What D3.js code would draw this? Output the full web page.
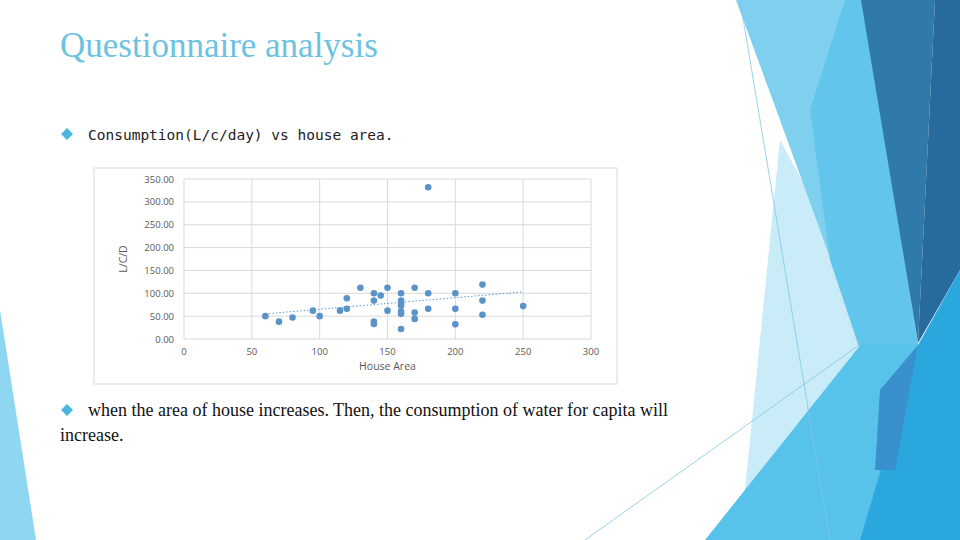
<!DOCTYPE html>
<html><head><meta charset="utf-8">
<script src="https://cdn.jsdelivr.net/npm/d3@7"></script>
<style>body{margin:0;background:#fff}svg{display:block}</style>
</head><body>
<script>
const houseArea = [60,70,80,95,100,115,120,120,130,140,140,140,140,145,150,150,160,160,160,160,160,160,160,170,170,170,180,180,180,200,200,200,220,220,220,250];
const consumption = [50,38,47,62,50,62,66,89,112,100,84,38,33,95,112,62,100,84,78,73,60,55,22,112,58,44,332,100,66,100,66,32,119,84,53,72];
const trendX = [60,250];
const trendY = [55,103];
const xTicks = [0,50,100,150,200,250,300];
const yTicks = [0,50,100,150,200,250,300,350];

const svg = d3.select("body").append("svg").attr("width",960).attr("height",540);

const deco = [
  {c:"#8fd6f1", p:[[0,310],[36,540],[0,540]]},
  {c:"#c9ecf8", p:[[780,140],[840,250],[870,340],[800,540],[740,540]]},
  {c:"#7fd0ef", p:[[736,0],[862,0],[918,345],[860,340],[820,230],[780,120]]},
  {c:"#62c6ec", p:[[845,0],[862,0],[918,345],[880,410],[830,260],[810,110]]},
  {c:"#2f7aaa", p:[[861,0],[935,0],[918,343]]},
  {c:"#276a9e", p:[[935,0],[960,0],[960,270],[918,343]]},
  {c:"#58c3ea", p:[[705,540],[862,343],[918,345],[880,540]]},
  {c:"#2aa8dd", p:[[860,540],[918,345],[960,270],[960,540]]},
  {c:"#3a90cc", p:[[880,390],[918,345],[895,470],[875,470]]}
];
svg.selectAll("polygon.d").data(deco).join("polygon")
  .attr("points",d=>d.p.map(q=>q.join(",")).join(" ")).attr("fill",d=>d.c);
svg.append("line").attr("x1",740).attr("y1",0).attr("x2",830).attr("y2",540).attr("stroke","#7fc8e6").attr("stroke-width",0.8);
svg.append("line").attr("x1",585).attr("y1",540).attr("x2",862).attr("y2",343).attr("stroke","#7fc8e6").attr("stroke-width",0.8);

svg.append("text").attr("x",60).attr("y",57).text("Questionnaire analysis")
  .attr("font-family","Liberation Serif").attr("font-size",35).attr("fill","#6cc3e0");
function diamond(x,y){svg.append("path").attr("d",`M${x},${y-6}L${x+6},${y}L${x},${y+6}L${x-6},${y}Z`).attr("fill","#4ab7e0");}
diamond(67,134);
svg.append("text").attr("x",88).attr("y",140).text("Consumption(L/c/day) vs house area.")
  .attr("font-family","DejaVu Sans Mono").attr("font-size",14.5).attr("fill","#222");
diamond(67,410);
svg.append("text").attr("x",88).attr("y",416).text("when the area of house increases. Then, the consumption of water for capita will")
  .attr("font-family","Liberation Serif").attr("font-size",18).attr("fill","#111");
svg.append("text").attr("x",60).attr("y",441).text("increase.")
  .attr("font-family","Liberation Serif").attr("font-size",18).attr("fill","#111");

svg.append("rect").attr("x",94).attr("y",168).attr("width",523).attr("height",216).attr("fill","#fff").attr("stroke","#d9d9d9");

const x = d3.scaleLinear().domain([0,300]).range([184,591]);
const y = d3.scaleLinear().domain([0,350]).range([339,179]);
const g = svg.append("g");
g.selectAll("line.h").data(yTicks).join("line").attr("x1",x(0)).attr("x2",x(300)).attr("y1",d=>y(d)).attr("y2",d=>y(d)).attr("stroke","#d9d9d9");
g.selectAll("line.v").data(xTicks).join("line").attr("y1",y(0)).attr("y2",y(350)).attr("x1",d=>x(d)).attr("x2",d=>x(d)).attr("stroke","#d9d9d9");
g.selectAll("text.yt").data(yTicks).join("text").attr("x",x(0)-10).attr("y",d=>y(d)+3.5).attr("text-anchor","end")
  .text(d=>d.toFixed(2)).attr("font-family","Open Sans").attr("font-size",9.5).attr("fill","#595959");
g.selectAll("text.xt").data(xTicks).join("text").attr("x",d=>x(d)).attr("y",y(0)+16).attr("text-anchor","middle")
  .text(d=>d).attr("font-family","Open Sans").attr("font-size",9.5).attr("fill","#595959");
g.append("text").attr("x",x(150)).attr("y",370).attr("text-anchor","middle").text("House Area")
  .attr("font-family","Open Sans").attr("font-size",10.5).attr("fill","#595959");
g.append("text").attr("transform",`translate(127,${y(175)}) rotate(-90)`).attr("text-anchor","middle").text("L/C/D")
  .attr("font-family","Open Sans").attr("font-size",10.5).attr("fill","#595959");
g.append("line").attr("x1",x(trendX[0])).attr("y1",y(trendY[0])).attr("x2",x(trendX[1])).attr("y2",y(trendY[1]))
  .attr("stroke","#5b9bd5").attr("stroke-dasharray","1.5,2").attr("stroke-width",1);
g.selectAll("circle").data(houseArea).join("circle").attr("cx",d=>x(d)).attr("cy",(d,i)=>y(consumption[i]))
  .attr("r",3.3).attr("fill","#5b93c9");
</script>
</body></html>
